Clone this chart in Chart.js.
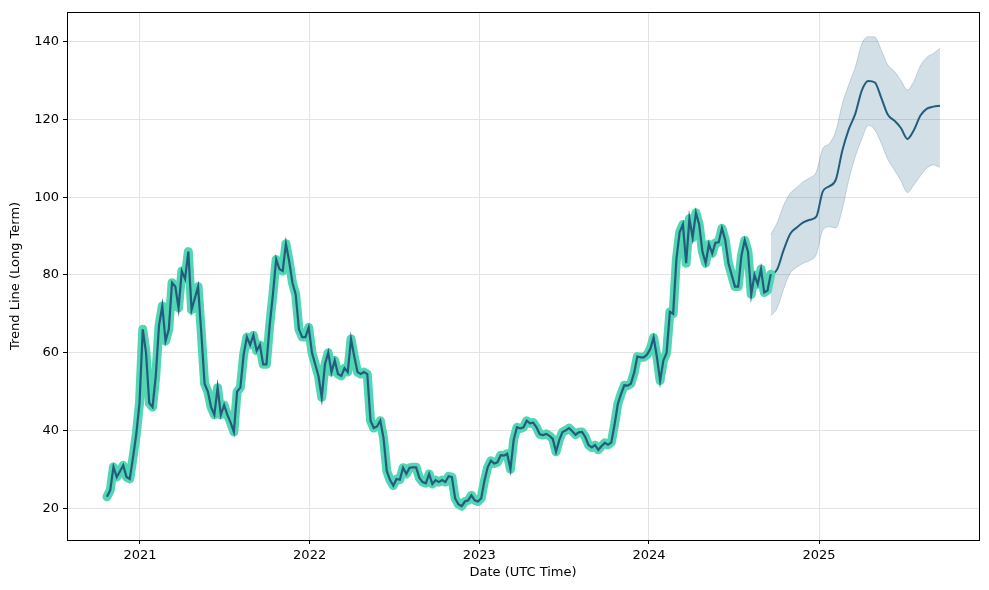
<!DOCTYPE html>
<html>
<head>
<meta charset="utf-8">
<script src="https://cdn.jsdelivr.net/npm/chart.js@4.4.1/dist/chart.umd.min.js"></script>
<style>
  html, body { margin: 0; padding: 0; background: #fff; }
  #wrap { width: 989px; height: 590px; }
</style>
</head>
<body>
<div id="wrap"><canvas id="chart"></canvas></div>
<script>
// weekly history, starting date + step
const histStart = "2020-10-22";
const histStepDays = 7;
const histValues = [
  22.9, 24.6, 30.6, 28, 29.5, 31, 28, 27.5, 33, 39,
  47, 66, 60, 47, 46, 54, 67, 72, 63, 66,
  78, 77, 71.5, 81, 79, 86, 71, 74, 77, 65,
  52, 50, 46, 44, 51, 44, 46.5, 44, 42, 39.6,
  50, 51, 59.5, 64, 62, 64.5, 60.5, 62, 57, 57,
  67, 75, 84, 81.5, 81, 88, 83.5, 78, 75, 66,
  64, 64, 66.5, 60, 57, 54, 48.5, 57, 60, 55,
  58, 54.5, 54, 56, 55, 63.5, 59, 55, 54.5, 55,
  54.5, 42.5, 40.6, 41, 42.5, 38, 29.5, 27.2, 25.8, 27.5,
  27.3, 30.4, 28.8, 30.4, 30.5, 30.5, 27.8, 26.7, 26.4, 28.8,
  26.2, 27.2, 26.7, 27.2, 26.7, 28.2, 28, 22.5, 21, 20.5,
  21.7, 22, 23.3, 22, 21.7, 22.5, 27, 30.5, 32.2, 31.5,
  31.8, 33.6, 33.5, 34, 30, 37.6, 40.8, 40.5, 40.8, 42.5,
  41.8, 42, 40.8, 39, 38.8, 39.1, 38.6, 37.8, 34.5, 37.5,
  39.6, 40, 40.6, 39.8, 38.9, 39.5, 39.6, 38.3, 36.2, 35.6,
  36.2, 35, 36, 36.8, 36.3, 36.9, 41.5, 46.8, 49.4, 51.6,
  51.5, 52, 54.8, 59, 58.8, 58.8, 59.5, 61, 63.9, 59,
  52.8, 58, 60, 70.5, 70, 84, 91, 93, 83, 94.5,
  89.6, 96, 93, 86, 83, 87.9, 85.5, 88.3, 88.4, 92,
  89, 83, 80, 77, 77, 85, 88.9, 86, 75, 80,
  77.6, 81.5, 75.5, 76, 80.2
];

// forecast, every two weeks from the last history point
const fcStepDays = 14;
const fcValues = [
  79.7, 81.5, 86.5, 90.6, 92.2, 93.5, 94.2, 95, 101.5, 102.8,
  104.5, 112, 117.5, 121.5, 127.5, 129.9, 129.5, 125.5, 121.2, 119.7,
  117.8, 115, 117.3, 121, 122.8, 123.3, 123.5
];
const fcUpper = [
  90.4, 93.5, 98, 101, 102.5, 104, 105, 106.5, 112.5, 113.8,
  117, 124, 129, 133.5, 139.5, 141.3, 141.2, 137.8, 134, 132.4,
  130, 127.6, 129.8, 133.8, 136, 137, 138.3
];
const fcLower = [
  69.5, 71.5, 76.5, 80.5, 82, 83, 83.7, 85.3, 91.5, 92.4,
  92.1, 97, 104.5, 110.5, 115, 118.5, 117.3, 113.8, 109.7, 107,
  104.2, 101.2, 103.2, 105.5, 107.5, 108.3, 107.7
];

const yearTicks = [2021, 2022, 2023, 2024, 2025];
const yTicks = [20, 40, 60, 80, 100, 120, 140];

const DAY = 86400000;
const t0 = Date.parse(histStart + "T00:00:00Z");
const histPts = histValues.map((v, i) => ({ x: t0 + i * histStepDays * DAY, y: v }));
const fc0 = histPts[histPts.length - 1].x;
const fcPts = (arr) => arr.map((v, i) => ({ x: fc0 + i * fcStepDays * DAY, y: v }));

const FONT = { family: "DejaVu Sans", size: 13 };

const frame = {
  id: "frame",
  afterDraw(chart) {
    const { ctx, chartArea: a } = chart;
    ctx.save();
    ctx.strokeStyle = "#000";
    ctx.lineWidth = 1;
    ctx.strokeRect(Math.round(a.left) + 0.5, Math.round(a.top) + 0.5,
                   Math.round(a.right - a.left), Math.round(a.bottom - a.top));
    ctx.restore();
  },
};

const LINE = { pointRadius: 0, fill: false };

new Chart(document.getElementById("chart"), {
  type: "line",
  data: {
    datasets: [
      { ...LINE, data: histPts, borderColor: "#225d7e", borderWidth: 2.2, tension: 0, order: 1 },
      { ...LINE, data: histPts, borderColor: "#52d6b3", borderWidth: 9, tension: 0, order: 2,
        borderJoinStyle: "round", borderCapStyle: "round" },
      { ...LINE, data: fcPts(fcValues), borderColor: "#225d7e", borderWidth: 2, cubicInterpolationMode: "monotone", order: 3 },
      { pointRadius: 0, data: fcPts(fcUpper), borderColor: "rgba(35,95,128,0.22)", borderWidth: 1,
        backgroundColor: "rgba(35,95,128,0.2)", fill: "+1", cubicInterpolationMode: "monotone", order: 4 },
      { ...LINE, data: fcPts(fcLower), borderColor: "rgba(35,95,128,0.22)", borderWidth: 1,
        cubicInterpolationMode: "monotone", order: 5 },
    ],
  },
  options: {
    responsive: true,
    maintainAspectRatio: false,
    animation: false,
    layout: { padding: { top: 9, right: 10, left: 0, bottom: 0 } },
    plugins: { legend: { display: false }, tooltip: { enabled: false } },
    scales: {
      x: {
        type: "linear",
        min: Date.UTC(2020, 6, 28),
        max: Date.UTC(2025, 11, 11),
        afterBuildTicks: (s) => { s.ticks = yearTicks.map((y) => ({ value: Date.UTC(y, 0, 1) })); },
        afterFit: (s) => { s.height = 50; },
        ticks: { color: "#000", font: FONT, padding: 4, maxRotation: 0,
                 callback: (v) => new Date(v).getUTCFullYear() },
        grid: { color: "#e3e3e3", tickColor: "#000", tickLength: 4 },
        border: { display: false },
        title: { display: true, text: "Date (UTC Time)", color: "#000", font: FONT, padding: { top: 0, bottom: 10 } },
      },
      y: {
        min: 11.8,
        max: 147.7,
        afterBuildTicks: (s) => { s.ticks = yTicks.map((v) => ({ value: v })); },
        afterFit: (s) => { s.width = 67; },
        ticks: { color: "#000", font: FONT, padding: 4 },
        grid: { color: "#e3e3e3", tickColor: "#000", tickLength: 4 },
        border: { display: false },
        title: { display: true, text: "Trend Line (Long Term)", color: "#000", font: FONT, padding: { top: 8, bottom: 0 } },
      },
    },
  },
  plugins: [frame],
});
</script>
</body>
</html>
